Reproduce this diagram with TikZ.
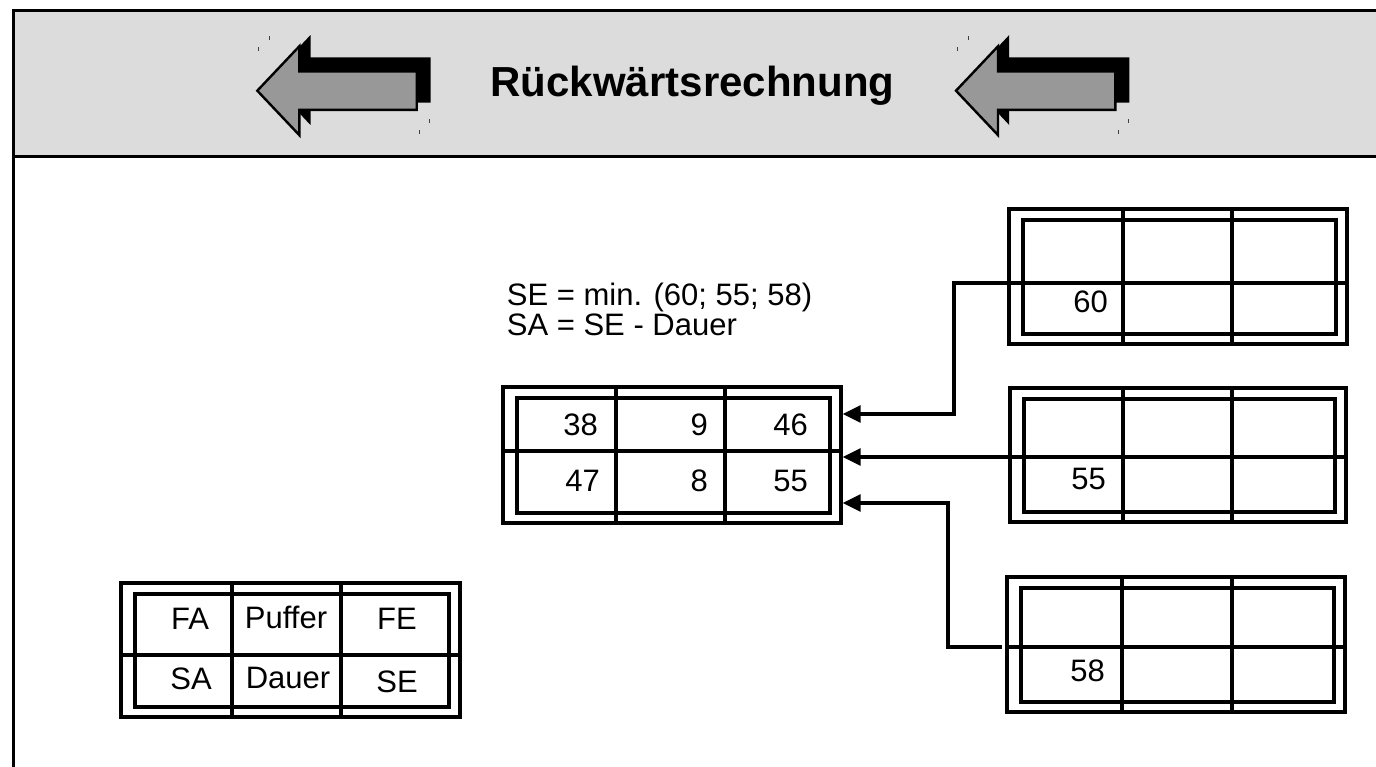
\documentclass[tikz,border=0pt]{standalone}
\usepackage{fontspec}
\setmainfont{Liberation Sans}
\usetikzlibrary{arrows.meta,calc,fit}
\definecolor{hdrgray}{RGB}{220,220,220}
\definecolor{arrowgray}{RGB}{152,152,152}
\tikzset{
  frameline/.style={line width=3pt},
  boxline/.style={line width=3.4pt},
  cellnum/.style={inner sep=0pt, anchor=base east, font=\fontsize{31}{36}\selectfont},
  celltxt/.style={inner sep=0pt, anchor=base, font=\fontsize{31}{36}\selectfont},
  formula/.style={inner sep=0pt, anchor=base west, font=\fontsize{31}{36}\selectfont},
  conn/.style={line width=3.2pt, -{Triangle[length=18pt,width=17pt]}},
  tick/.style={line width=1pt, black!75},
}
% name, x1, y1, x2, y2, ymid, xv1, xv2
\newcommand{\nplanbox}[8]{%
  \coordinate (#1-a) at (#2,#3);
  \coordinate (#1-b) at (#4,#5);
  \node[fit=(#1-a)(#1-b), inner sep=0pt, draw, line width=3.4pt] (#1) {};
  \draw[boxline] (#2+14,#3+11) rectangle (#4-11,#5-10);
  \draw[boxline] (#2,#6) -- (#4+1,#6);
  \draw[boxline] (#7,#3) -- (#7,#5);
  \draw[boxline] (#8,#3) -- (#8,#5);
  \coordinate (#1-mid) at (#2,#6);
}
% tip x, tip y
\newcommand{\hdrarrow}[2]{%
  \fill[black] (#1+11,#2-10.7) -- (#1+53.2,#2-55.7) -- (#1+53.2,#2-33.4)
    -- (#1+173.4,#2-33.4) -- (#1+173.4,#2+12) -- (#1+53.2,#2+12)
    -- (#1+53.2,#2+34.3) -- cycle;
  \draw[line width=2.4pt, fill=arrowgray] (#1,#2) -- (#1+42,#2-44.4) -- (#1+42,#2-19.2)
    -- (#1+159.4,#2-19.2) -- (#1+159.4,#2+19.2) -- (#1+42,#2+19.2)
    -- (#1+42,#2+44.4) -- cycle;
  \draw[tick] (#1+12,#2-54.4) -- (#1+12,#2-50.4);
  \draw[tick] (#1+1,#2-43.4) -- (#1+1,#2-39.4);
  \draw[tick] (#1+172,#2+28.3) -- (#1+172,#2+32.3);
  \draw[tick] (#1+162,#2+39) -- (#1+162,#2+43);
}
\begin{document}
\begin{tikzpicture}[x=1pt,y=-1pt]
\useasboundingbox (0,0) rectangle (1376,766);
\fill[white] (0,0) rectangle (1376,766);
% header
\fill[hdrgray] (13.5,10) rectangle (1380,156);
\draw[frameline] (13.5,775) -- (13.5,10) -- (1380,10);
\draw[frameline] (12,156) -- (1380,156);
\hdrarrow{257.3}{90.7}
\hdrarrow{956}{90.7}
\node[anchor=base, inner sep=0pt, font=\bfseries\fontsize{42}{50}\selectfont] (title) at (692.5,96.7) {Rückwärtsrechnung};
% boxes
\nplanbox{mid}{503}{387}{841}{523}{451}{616}{725}
\nplanbox{ra}{1009}{209}{1347}{344}{283}{1123}{1232}
\nplanbox{rb}{1010}{388}{1346}{522}{457}{1123}{1232}
\nplanbox{rc}{1007}{577}{1345}{712}{647}{1122}{1232}
\nplanbox{leg}{121}{583}{460}{717}{655}{232}{341}
% cell texts
\node[cellnum] (m11) at (598,435) {38};
\node[cellnum] (m12) at (708,435) {9};
\node[cellnum] (m13) at (808,435) {46};
\node[cellnum] (m21) at (600,491) {47};
\node[cellnum] (m22) at (708,491) {8};
\node[cellnum] (m23) at (808,491) {55};
\node[cellnum] (ra21) at (1108,312) {60};
\node[cellnum] (rb21) at (1106,489) {55};
\node[cellnum] (rc21) at (1105,681) {58};
\node[celltxt] (l11) at (190,629) {FA};
\node[celltxt] (l12) at (286,628) {Puffer};
\node[celltxt] (l13) at (397,629) {FE};
\node[celltxt] (l21) at (191,689) {SA};
\node[celltxt] (l22) at (288,688) {Dauer};
\node[celltxt] (l23) at (397,692) {SE};
% formula
\node[formula] (f1) at (506.7,305) {SE = min. (60; 55; 58)};
\node[formula] (f2) at (506.7,335) {SA = SE - Dauer};
% connectors
\coordinate (c1) at (954,414);
\draw[conn] (ra-mid) -| (c1) -- (mid.east |- c1);
\draw[conn] (rb-mid) -- (mid.east |- rb-mid);
\coordinate (c3) at (948,503);
\coordinate (rc-gap) at ($(rc-mid)+(-5,0)$);
\draw[conn] (rc-gap) -| (c3) -- (mid.east |- c3);
\end{tikzpicture}
\end{document}
